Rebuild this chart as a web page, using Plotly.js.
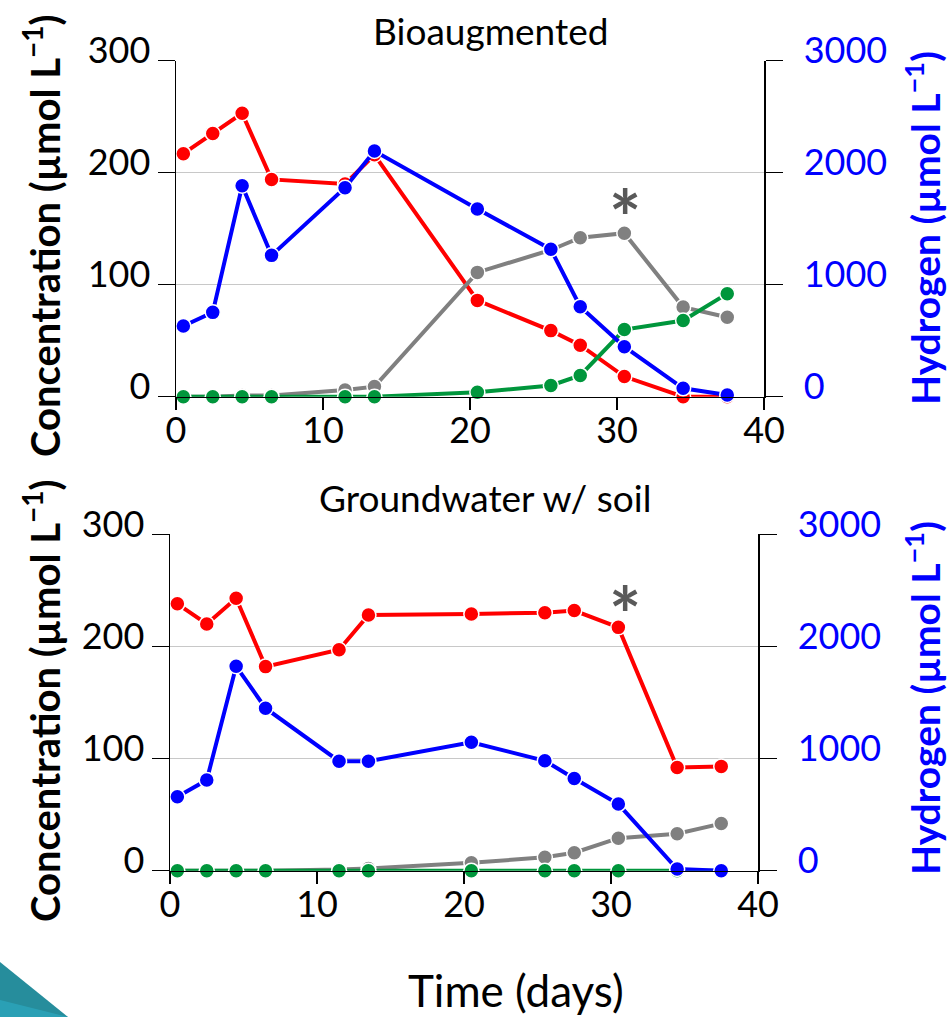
<!DOCTYPE html>
<html>
<head>
<meta charset="utf-8">
<script src="https://cdn.plot.ly/plotly-3.0.1.min.js"></script>
<style>html,body{margin:0;padding:0;background:#fff;}#chart{width:951px;height:1017px;}</style>
</head>
<body>
<div id="chart"></div>
<script>
// ---- data ----
const days = [0.5, 2.5, 4.5, 6.5, 11.5, 13.5, 20.5, 25.5, 27.5, 30.5, 34.5, 37.5];

const bioRed   = [217, 235, 253, 194, 190, 216, 86, 59, 46, 18, 0, 0];
const bioGray  = [0, 0, 1, 1, 6, 9, 111, 131, 142, 146, 80, 71];
const bioGreen = [0, 0, 0, 0, 0, 0, 4, 10, 19, 60, 68, 92];
const bioH2    = [631, 753, 1884, 1262, 1866, 2194, 1676, 1316, 804, 446, 75, 15];

const gwRed   = [238, 220, 243, 182, 197, 228, 229, 230, 232, 217, 92, 93];
const gwGray  = [0, 0, 0, 0, 1, 2, 7, 12, 16, 29, 33, 42];
const gwGreen = [0, 0, 0, 0, 0, 0, 0, 0, 0, 0, 0, 0];
const gwH2    = [659, 808, 1823, 1449, 977, 977, 1146, 980, 823, 594, 15, 0];

const xTicks = [0, 10, 20, 30, 40];
const concTicks = [0, 100, 200, 300];
const h2Ticks = [0, 1000, 2000, 3000];

const panelTitles = ["Bioaugmented", "Groundwater w/ soil"];
const leftTitle = "Concentration (µmol L<sup>−1</sup>)";
const rightTitle = "Hydrogen (µmol L<sup>−1</sup>)";
const xTitle = "Time (days)";

// ---- styling ----
const FONT = "Lato, 'Open Sans', sans-serif";
const W = 951, H = 1017;
const px = v => v / W;
const py = v => 1 - v / H;

function series(x, y, color, xa, ya) {
  return {
    x: x, y: y, xaxis: xa, yaxis: ya, type: 'scatter', mode: 'lines+markers',
    cliponaxis: false, showlegend: false, hoverinfo: 'x+y',
    line: {color: color, width: 4},
    marker: {color: color, size: 15, line: {color: '#ffffff', width: 1.5}}
  };
}

const RED = '#FF0000', GRAY = '#808080', GREEN = '#00963C', BLUE = '#0000FF';

const data = [
  series(days, bioRed, RED, 'x', 'y'),
  series(days, bioGray, GRAY, 'x', 'y'),
  series(days, bioGreen, GREEN, 'x', 'y'),
  series(days, bioH2, BLUE, 'x', 'y2'),
  series(days, gwRed, RED, 'x2', 'y3'),
  series(days, gwGray, GRAY, 'x2', 'y3'),
  series(days, gwGreen, GREEN, 'x2', 'y3'),
  series(days, gwH2, BLUE, 'x2', 'y4')
];

function xax(domain, anchor) {
  return {
    domain: domain, anchor: anchor, range: [0, 40], tickvals: xTicks,
    showline: true, linecolor: '#000', linewidth: 1.5,
    ticks: 'outside', ticklen: 12, tickwidth: 1.5, tickcolor: '#000',
    showgrid: false, zeroline: false, ticklabelstandoff: -10,
    tickfont: {family: FONT, size: 36, color: '#000'}
  };
}
function yLeft(domain, anchor) {
  return {
    domain: domain, anchor: anchor, range: [0, 300], tickvals: concTicks,
    showline: true, linecolor: '#000', linewidth: 1.5,
    ticks: 'outside', ticklen: 17, tickwidth: 1.5, tickcolor: '#000',
    showgrid: true, gridcolor: '#C8C8C8', gridwidth: 1.5, zeroline: false,
    ticklabelshift: -10,
    tickfont: {family: FONT, size: 36, color: '#000'}
  };
}
function yRight(overlay, anchor) {
  return {
    overlaying: overlay, anchor: anchor, side: 'right', range: [0, 3000], tickvals: h2Ticks,
    showline: true, linecolor: '#000', linewidth: 1.5,
    ticks: 'outside', ticklen: 17, tickwidth: 1.5, tickcolor: '#000',
    showgrid: false, zeroline: false,
    ticklabelshift: -10, ticklabelstandoff: 14,
    tickfont: {family: FONT, size: 36, color: BLUE}
  };
}

const topX = [px(176), px(764)], topY = [py(396.7), py(60.7)];
const botX = [px(170), px(758)], botY = [py(870.7), py(534.3)];

function ann(text, x, y, size, color, extra) {
  const a = {
    text: text, xref: 'paper', yref: 'paper', x: px(x), y: py(y),
    xanchor: 'center', yanchor: 'middle', showarrow: false,
    font: {family: FONT, size: size, color: color}
  };
  if (extra) {
    if (extra.weight) a.font.weight = extra.weight;
    if (extra.textangle !== undefined) a.textangle = extra.textangle;
  }
  return a;
}

const layout = {
  width: W, height: H,
  margin: {l: 0, r: 0, t: 0, b: 0},
  paper_bgcolor: '#fff', plot_bgcolor: 'rgba(0,0,0,0)',
  showlegend: false,
  xaxis: xax(topX, 'y'),
  yaxis: yLeft(topY, 'x'),
  yaxis2: yRight('y', 'x'),
  xaxis2: xax(botX, 'y3'),
  yaxis3: yLeft(botY, 'x2'),
  yaxis4: yRight('y3', 'x2'),
  annotations: [
    ann(panelTitles[0], 490, 31, 37, '#000'),
    ann(panelTitles[1], 485, 497, 37, '#000'),
    ann(leftTitle, 42, 236, 40, '#000', {textangle: -90, weight: 'bold'}),
    ann(rightTitle, 922, 228, 39, BLUE, {textangle: -90, weight: 'bold'}),
    ann(leftTitle, 42, 701, 40, '#000', {textangle: -90, weight: 'bold'}),
    ann(rightTitle, 922, 698, 39, BLUE, {textangle: -90, weight: 'bold'}),
    ann(xTitle, 516, 990, 44, '#000'),
    ann('*', 625, 217, 76, '#595959', {weight: 'bold'}),
    ann('*', 625, 613, 76, '#595959', {weight: 'bold'})
  ],
  shapes: [
    {type: 'path', xref: 'paper', yref: 'paper', layer: 'below',
     path: `M 0 ${py(962)} L ${px(68)} 0 L 0 0 Z`, fillcolor: '#268D9C', line: {width: 0}},
    {type: 'path', xref: 'paper', yref: 'paper', layer: 'below',
     path: `M 0 ${py(1000)} L ${px(68)} 0 L 0 0 Z`, fillcolor: '#2AA0B5', line: {width: 0}}
  ]
};

Plotly.newPlot('chart', data, layout, {displayModeBar: false, staticPlot: true});
</script>
</body>
</html>
